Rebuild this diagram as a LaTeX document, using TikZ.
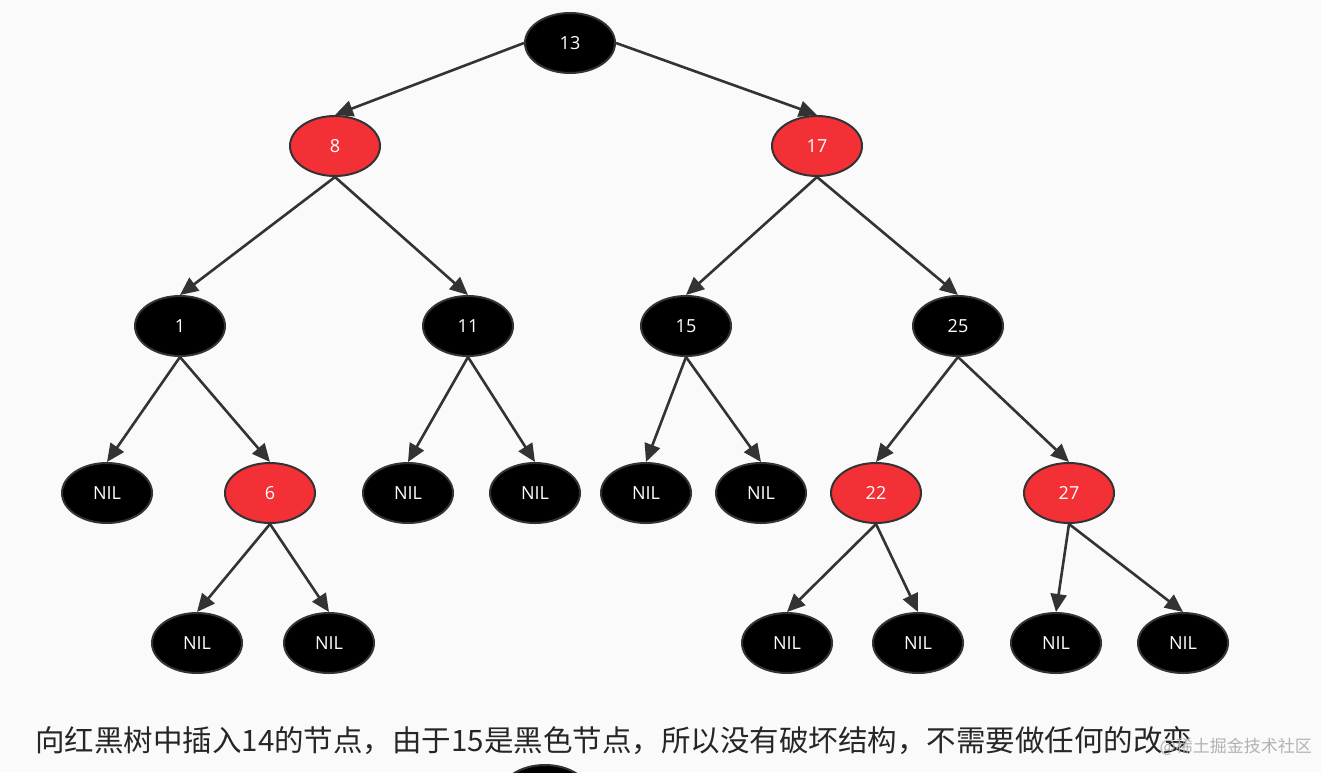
\documentclass[tikz,border=0pt]{standalone}
\usepackage{fontspec}
\setmainfont{Open Sans}
\newfontfamily\cjk{Noto Sans CJK SC}
\usetikzlibrary{arrows.meta,shapes.geometric}
\definecolor{rbred}{HTML}{F23035}
\definecolor{edge}{HTML}{333333}
\begin{document}
\begin{tikzpicture}[x=1pt,y=-1pt,
  nd/.style={ellipse,draw=edge,line width=2pt,minimum width=90pt,minimum height=60pt,inner sep=0pt,text=white,font=\fontsize{18}{21}\selectfont},
  bk/.style={nd,fill=black},
  rd/.style={nd,fill=rbred},
  ar/.style={draw=edge,line width=2.6pt,-{Triangle[length=18pt,width=16pt]}}]
\fill[black!2] (0,0) rectangle (1321,772);
\useasboundingbox (0,0) rectangle (1321,772);
\node[bk] (n13) at (570,43) {13};
\node[rd] (n8) at (335,146) {8};
\node[rd] (n17) at (817,146) {17};
\node[bk] (n1) at (180,326) {1};
\node[bk] (n11) at (468,326) {11};
\node[bk] (n15) at (686,326) {15};
\node[bk] (n25) at (958,326) {25};
\node[bk] (a1) at (107,493) {NIL};
\node[rd] (n6) at (270,493) {6};
\node[bk] (a2) at (408,493) {NIL};
\node[bk] (a3) at (535,493) {NIL};
\node[bk] (a4) at (646,493) {NIL};
\node[bk] (a5) at (761,493) {NIL};
\node[rd] (n22) at (876,493) {22};
\node[rd] (n27) at (1069,493) {27};
\node[bk] (b1) at (197,643) {NIL};
\node[bk] (b2) at (329,643) {NIL};
\node[bk] (b3) at (787,643) {NIL};
\node[bk] (b4) at (918,643) {NIL};
\node[bk] (b5) at (1056,643) {NIL};
\node[bk] (b6) at (1183,643) {NIL};
\draw[ar] (n13.west) -- (n8.north);
\draw[ar] (n13.east) -- (n17.north);
\foreach \p/\c in {n8/n1,n8/n11,n17/n15,n17/n25,n1/a1,n1/n6,n11/a2,n11/a3,n15/a4,n15/a5,n25/n22,n25/n27,n6/b1,n6/b2,n22/b3,n22/b4,n27/b5,n27/b6}
  \draw[ar] (\p.south) -- (\c.north);
\node[anchor=west,text=black!85,inner sep=0pt,font=\cjk\fontsize{29.5}{34}\selectfont] (cap) at (35,741) {向红黑树中插入14的节点，由于15是黑色节点，所以没有破坏结构，不需要做任何的改变};
\node[anchor=east,text=black!30,inner sep=0pt,font=\cjk\fontsize{17}{20}\selectfont] (wm) at (1312,747) {@稀土掘金技术社区};
\node[bk] (part) at (545,795) {};
\end{tikzpicture}
\end{document}
